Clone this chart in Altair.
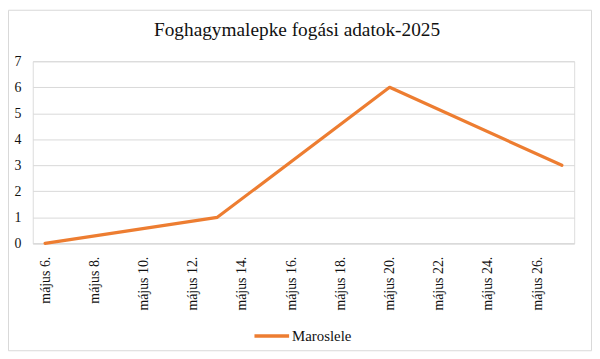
import altair as alt
import pandas as pd

# Data
days = [6, 13, 20, 27]          # day of May
values = [0, 1, 6, 3]
series = ["Maroslele"] * 4
tick_days = [6, 8, 10, 12, 14, 16, 18, 20, 22, 24, 26]
y_ticks = [0, 1, 2, 3, 4, 5, 6, 7]
title = "Foghagymalepke fogási adatok-2025"

df = pd.DataFrame({"day": days, "value": values, "series": series})

FONT = "Liberation Serif"
W, H = 547, 184

line = alt.Chart(df).mark_line(strokeWidth=3.2, strokeCap="round", strokeJoin="round").encode(
    x=alt.X("day:Q",
            scale=alt.Scale(domain=[5.5, 27.5], nice=False, zero=False),
            axis=alt.Axis(values=tick_days, labelExpr="'május ' + datum.value + '.'",
                          labelAngle=270, labelAlign="right", labelBaseline="middle",
                          labelPadding=13, ticks=False, grid=False, domain=True,
                          domainColor="#d9d9d9", labelFont=FONT, labelFontSize=14,
                          labelColor="#111", title=None, labelOverlap=False,
                          labelBound=False, labelFlush=False)),
    y=alt.Y("value:Q",
            scale=alt.Scale(domain=[0, 7], nice=False),
            axis=alt.Axis(values=y_ticks, ticks=False, domain=False, grid=True,
                          gridColor="#d9d9d9", gridWidth=1, labelFont=FONT,
                          labelFontSize=14, labelColor="#111", labelPadding=12,
                          title=None)),
    color=alt.Color("series:N",
                    scale=alt.Scale(range=["#ED7D31"]),
                    legend=alt.Legend(orient="none", legendX=222, legendY=258,
                                      title=None, symbolType="stroke",
                                      symbolSize=1225, symbolStrokeWidth=3.5,
                                      labelFont=FONT, labelFontSize=15,
                                      labelColor="#111", labelOffset=1)),
)

title_df = pd.DataFrame({"t": [title]})
title_mark = alt.Chart(title_df).mark_text(font=FONT, fontSize=19.5, color="#111",
                                            align="center", baseline="alphabetic").encode(
    text="t:N", x=alt.value(267), y=alt.value(-25)
)

border_df = pd.DataFrame({"b": [1]})
border = alt.Chart(border_df).mark_rect(fill=None, stroke="#d9d9d9", strokeWidth=1).encode(
    x=alt.value(-24.5), x2=alt.value(564.5), y=alt.value(-51.5), y2=alt.value(292.5)
)

chart = alt.layer(line, title_mark, border).properties(
    width=W, height=H,
    autosize=alt.AutoSizeParams(type="none"),
    padding={"left": 25, "top": 52, "right": 18, "bottom": 109},
).configure_view(stroke=None).configure(background="white")

chart.save("out.html", embed_options={"renderer": "svg", "actions": False})
